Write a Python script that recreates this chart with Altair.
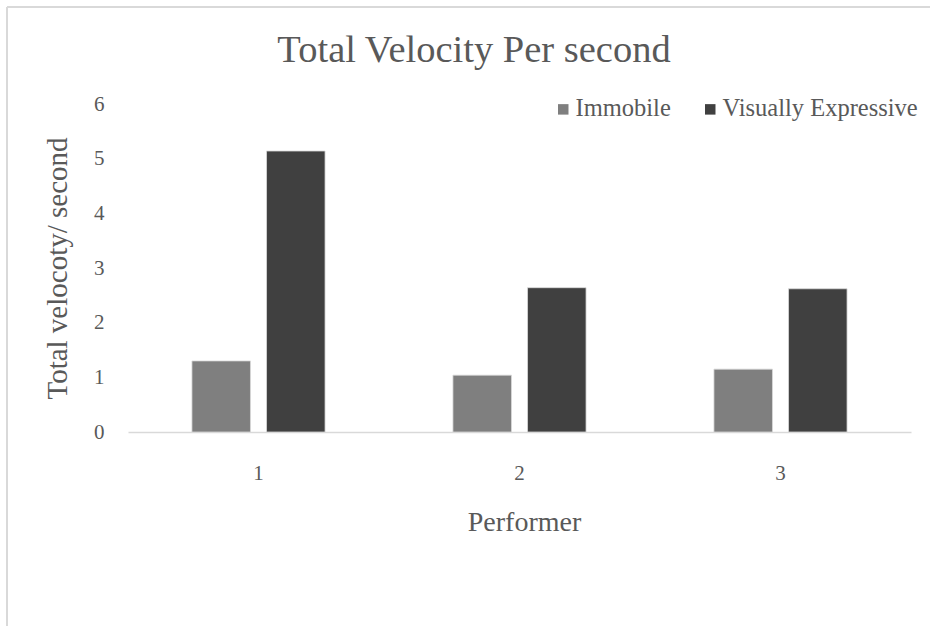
import altair as alt
import pandas as pd

performers = ["1", "2", "3"]
series = ["Immobile", "Visually Expressive"]
immobile = [1.30, 1.04, 1.15]
expressive = [5.14, 2.64, 2.62]
colors = ["#7f7f7f", "#404040"]
title_text = "Total Velocity Per second"

rows = []
for i, p in enumerate(performers):
    rows.append({"Performer": p, "Series": series[0], "Value": immobile[i]})
    rows.append({"Performer": p, "Series": series[1], "Value": expressive[i]})
df = pd.DataFrame(rows)

FONT = "Liberation Serif"
TXT = "#595959"

bars = alt.Chart(df).mark_bar(stroke="#d9d9d9", strokeWidth=0.8).encode(
    x=alt.X("Performer:N", sort=performers,
            scale=alt.Scale(paddingInner=0.49, paddingOuter=0.245),
            axis=alt.Axis(title="Performer", labelAngle=0, ticks=False,
                          domainColor="#d9d9d9", domainWidth=1.5,
                          labelFont=FONT, labelFontSize=21, labelColor=TXT,
                          labelPadding=30,
                          titleFont=FONT, titleFontSize=28, titleColor=TXT,
                          titleFontWeight="normal", titleX=396, titleY=90,
                          titleBaseline="middle")),
    xOffset=alt.XOffset("Series:N", sort=series,
                        scale=alt.Scale(paddingInner=0.215, paddingOuter=0)),
    y=alt.Y("Value:Q", scale=alt.Scale(domain=[0, 6]),
            axis=alt.Axis(title="Total velocoty/ second", values=[0, 1, 2, 3, 4, 5, 6],
                          grid=False, domain=False, ticks=False,
                          labelFont=FONT, labelFontSize=21, labelColor=TXT,
                          labelPadding=24,
                          titleFont=FONT, titleFontSize=29, titleColor=TXT,
                          titleFontWeight="normal", titleX=-71, titleY=164,
                          titleAlign="center", titleBaseline="middle")),
    color=alt.Color("Series:N", sort=series,
                    scale=alt.Scale(domain=series, range=colors),
                    legend=alt.Legend(title=None, orient="none", direction="horizontal",
                                      legendX=423, legendY=-7, padding=0,
                                      symbolType="square", symbolSize=110,
                                      symbolStrokeWidth=0, labelLimit=400,
                                      labelFont=FONT, labelFontSize=24.5, labelColor=TXT,
                                      columnPadding=27, labelOffset=0)),
)

title = alt.Chart(alt.Data(values=[{"t": title_text}])).mark_text(
    font=FONT, fontSize=38.5, color=TXT, align="center", baseline="alphabetic"
).encode(text="t:N", x=alt.value(346), y=alt.value(-42))

border = alt.Chart(alt.Data(values=[{}])).mark_rule(color="#d9d9d9", strokeWidth=2, clip=False).encode(
    x=alt.value(-121), x2=alt.value(-121), y=alt.value(-97), y2=alt.value(522)
)
border_top = alt.Chart(alt.Data(values=[{}])).mark_rule(color="#d9d9d9", strokeWidth=2, clip=False).encode(
    x=alt.value(-121), x2=alt.value(802), y=alt.value(-97), y2=alt.value(-97)
)

chart = alt.layer(border, border_top, title, bars).properties(
    width=783, height=328,
    autosize=alt.AutoSizeParams(type="none"),
    padding={"left": 128, "top": 104, "right": 19, "bottom": 194},
    background="white",
).configure_view(stroke=None)

chart.save("out.html", embed_options={"renderer": "svg", "actions": False})
